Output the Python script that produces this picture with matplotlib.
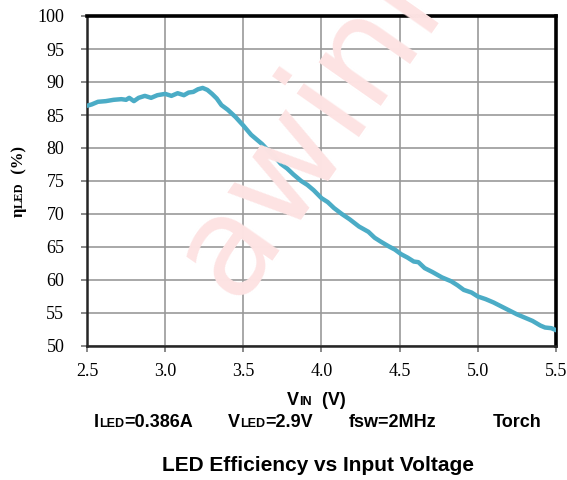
import matplotlib
matplotlib.use("Agg")
import matplotlib.pyplot as plt

# data
vin = [2.50, 2.53, 2.57, 2.62, 2.67, 2.72, 2.75, 2.77, 2.80, 2.83, 2.87, 2.91,
       2.95, 3.00, 3.04, 3.08, 3.12, 3.15, 3.18, 3.21, 3.24, 3.27, 3.30, 3.33,
       3.36, 3.40, 3.45, 3.50, 3.55, 3.58, 3.62, 3.66, 3.70, 3.74, 3.78, 3.82,
       3.87, 3.91, 3.95, 4.00, 4.04, 4.08, 4.13, 4.18, 4.24, 4.30, 4.34, 4.38,
       4.43, 4.47, 4.51, 4.55, 4.59, 4.62, 4.66, 4.71, 4.77, 4.83, 4.87, 4.91,
       4.96, 5.00, 5.05, 5.10, 5.15, 5.20, 5.25, 5.30, 5.35, 5.40, 5.43, 5.47,
       5.50]
eff = [86.4, 86.6, 87.0, 87.1, 87.3, 87.4, 87.3, 87.6, 87.1, 87.6, 87.9, 87.6,
       88.0, 88.2, 87.9, 88.3, 88.0, 88.4, 88.5, 88.9, 89.1, 88.8, 88.2, 87.5,
       86.5, 85.8, 84.7, 83.4, 82.0, 81.4, 80.6, 79.6, 78.7, 77.6, 76.9, 76.0,
       75.0, 74.4, 73.6, 72.4, 71.8, 70.9, 70.0, 69.2, 68.1, 67.3, 66.4, 65.8,
       65.1, 64.6, 63.9, 63.4, 62.8, 62.7, 61.8, 61.2, 60.4, 59.8, 59.2, 58.5,
       58.1, 57.5, 57.1, 56.6, 56.0, 55.4, 54.8, 54.3, 53.8, 53.1, 52.8, 52.7,
       52.4]

x_ticks = [2.5, 3.0, 3.5, 4.0, 4.5, 5.0, 5.5]
y_ticks = [50, 55, 60, 65, 70, 75, 80, 85, 90, 95, 100]

SERIF = ["Liberation Serif", "DejaVu Serif"]
SANS = ["Liberation Sans", "DejaVu Sans"]

W, H = 567, 480
fig = plt.figure(figsize=(W / 100, H / 100), dpi=100)
ax = fig.add_axes([87 / W, 1 - 346 / H, (556 - 87) / W, (346 - 16) / H])

ax.plot(vin, eff, color="#4BACC6", linewidth=3.2, solid_capstyle="round", zorder=3)

ax.set_xlim(2.5, 5.5)
ax.set_ylim(50, 100)
ax.set_xticks(x_ticks)
ax.set_yticks(y_ticks)
ax.set_xticklabels([f"{t:.1f}" for t in x_ticks], family=SERIF, fontsize=13)
ax.set_yticklabels([str(t) for t in y_ticks], family=SERIF, fontsize=13)
ax.tick_params(axis="both", direction="out", length=4.3, width=1.3, color="#7f7f7f")
ax.tick_params(axis="y", pad=12)
ax.tick_params(axis="x", pad=8)

ax.grid(True, color="#999999", linewidth=1.2, zorder=1)
ax.set_axisbelow(True)

for side in ["left", "bottom"]:
    ax.spines[side].set_color("#262626")
    ax.spines[side].set_linewidth(1.8)
for side in ["top", "right"]:
    ax.spines[side].set_color("black")
    ax.spines[side].set_linewidth(2.6)

# watermark, runs off the top edge like in the reference
fig.text(235 / W, 1 - 303 / H, "awinic", fontsize=100, color="#fde3e3",
         rotation=55, rotation_mode="anchor", ha="left", va="baseline",
         family="DejaVu Sans", zorder=0.5)

fig.canvas.draw()
renderer = fig.canvas.get_renderer()


def pieces(x, y, parts, family, rotate=False):
    # draw text pieces of mixed sizes one after another, in pixel coords
    for s, size in parts:
        t = fig.text(x / W, 1 - y / H, s, fontsize=size, fontweight="bold",
                     family=family, ha="left", va="baseline",
                     rotation=90 if rotate else 0, rotation_mode="anchor")
        bb = t.get_window_extent(renderer)
        if rotate:
            y -= bb.height
        else:
            x += bb.width


pieces(23, 217, [("η", 12), ("LED", 9), ("  (%)", 12)], SERIF, rotate=True)
pieces(287, 405, [("V", 13), ("IN", 9), ("  (V)", 13)], SANS)
pieces(94, 427, [("I", 13), ("LED", 9), ("=0.386A", 13)], SANS)
pieces(228, 427, [("V", 13), ("LED", 9), ("=2.9V", 13)], SANS)
pieces(349, 427, [("fsw=2MHz", 13)], SANS)
pieces(493, 427, [("Torch", 13)], SANS)

fig.text(318 / W, 1 - 471 / H, "LED Efficiency vs Input Voltage", fontsize=15,
         fontweight="bold", family=SANS, ha="center", va="baseline")

fig.savefig("out.png", dpi=100)
